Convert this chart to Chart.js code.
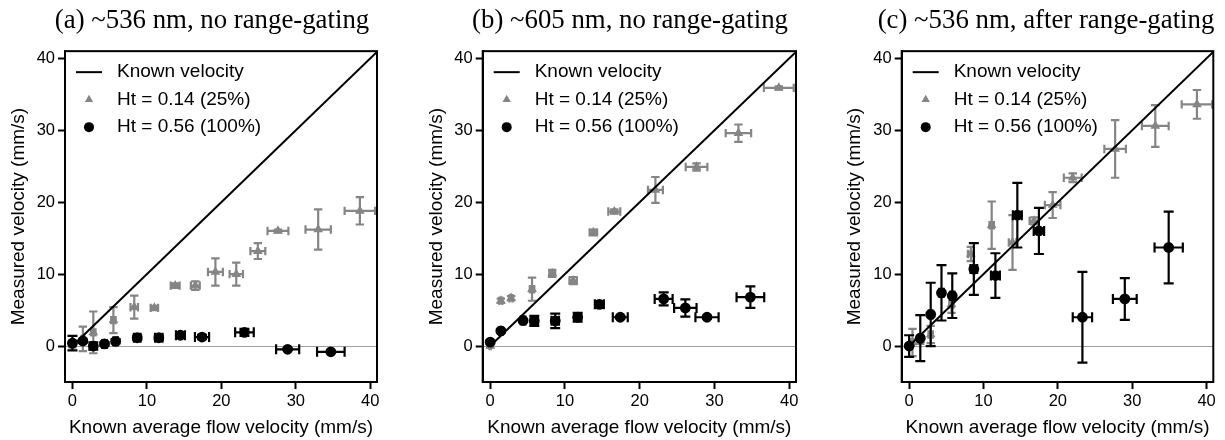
<!DOCTYPE html>
<html>
<head>
<meta charset="utf-8">
<script src="https://cdn.jsdelivr.net/npm/chart.js@4.4.1/dist/chart.umd.min.js"></script>
<style>
html, body { margin: 0; padding: 0; background: #fff; overflow: hidden; width: 1225px; height: 440px; }
canvas { position: absolute; top: 0; }
</style>
</head>
<body>
<canvas id="panelA" width="416" height="440" style="left:4px"></canvas>
<canvas id="panelB" width="416" height="440" style="left:422px"></canvas>
<canvas id="panelC" width="416" height="440" style="left:838px"></canvas>
<script>
// tick labels (both axes share the same values)
var xTicks = [0, 10, 20, 30, 40];
var yTicks = [0, 10, 20, 30, 40];
var knownLine = [0, 41];

var titles = ['(a) ~536 nm, no range-gating', '(b) ~605 nm, no range-gating', '(c) ~536 nm, after range-gating'];
var seriesNames = ['Known velocity', 'Ht = 0.14 (25%)', 'Ht = 0.56 (100%)'];

// (a) ~536 nm, no range-gating
var aGrayX    = [0, 1.4, 2.8, 5.5, 8.3, 11.0, 13.8, 16.5, 19.2, 22.0, 24.9, 27.6, 33.0, 38.6];
var aGrayY    = [0.3, 1.0, 1.9, 3.6, 5.4, 5.3, 8.4, 8.4, 10.3, 10.0, 13.2, 16.0, 16.2, 18.8];
var aGrayXErr = [0.1, 0.2, 0.3, 0.3, 0.5, 0.5, 0.6, 0.6, 1.0, 0.9, 1.0, 1.4, 1.7, 2.05];
var aGrayYErr = [0.5, 1.7, 2.9, 1.8, 1.6, 0.3, 0.3, 0.6, 1.9, 1.6, 1.1, 0.2, 2.8, 1.9];
var aBlackX    = [0, 1.4, 2.8, 4.3, 5.8, 8.7, 11.6, 14.5, 17.4, 23.1, 28.9, 34.7];
var aBlackY    = [0.4, 0.7, 0.0, 0.3, 0.65, 1.15, 1.15, 1.5, 1.25, 1.9, -0.45, -0.8];
var aBlackXErr = [0.1, 0.15, 0.2, 0.3, 0.3, 0.45, 0.5, 0.6, 0.95, 1.25, 1.55, 1.85];
var aBlackYErr = [1.0, 0.2, 0.5, 0.2, 0.3, 0.3, 0.3, 0.3, 0.3, 0.5, 0.1, 0.1];

// (b) ~605 nm, no range-gating
var bGrayX    = [0, 1.43, 2.8, 5.6, 8.3, 11.1, 13.8, 16.6, 22.1, 27.6, 33.2, 38.6];
var bGrayY    = [0, 6.3, 6.65, 7.9, 10.1, 9.1, 15.8, 18.7, 21.7, 24.9, 29.6, 35.9];
var bGrayXErr = [0.1, 0.2, 0.2, 0.3, 0.4, 0.5, 0.5, 0.8, 1.0, 1.45, 1.7, 2.0];
var bGrayYErr = [0.2, 0.3, 0.3, 1.6, 0.5, 0.5, 0.4, 0.3, 1.8, 0.5, 1.2, 0.2];
var bBlackX    = [0, 1.43, 4.4, 5.9, 8.7, 11.7, 14.6, 17.4, 23.2, 26.1, 29.0, 34.8];
var bBlackY    = [0.55, 2.1, 3.55, 3.5, 3.5, 4.0, 5.8, 4.0, 6.55, 5.3, 4.0, 6.8];
var bBlackXErr = [0.1, 0.2, 0.3, 0.5, 0.5, 0.5, 0.6, 1.0, 1.2, 1.5, 1.55, 1.85];
var bBlackYErr = [0.2, 0.2, 0.2, 0.7, 1.0, 0.6, 0.2, 0.2, 0.9, 1.2, 0.2, 1.5];

// (c) ~536 nm, after range-gating
var cGrayX    = [0.45, 1.5, 2.9, 5.7, 8.3, 11.1, 13.9, 16.8, 19.3, 22.0, 27.7, 33.1, 38.7];
var cGrayY    = [0.5, 0.8, 1.6, 5.8, 12.8, 16.8, 14.4, 17.4, 19.6, 23.4, 27.4, 30.6, 33.6];
var cGrayXErr = [0.2, 0.2, 0.3, 0.3, 0.4, 0.3, 0.5, 0.6, 1.05, 1.2, 1.45, 1.8, 2.05];
var cGrayYErr = [1.9, 0.5, 1.2, 1.2, 1.0, 3.3, 3.8, 0.5, 1.8, 0.6, 4.0, 2.9, 2.0];
var cBlackX    = [0, 1.5, 2.9, 4.35, 5.8, 8.7, 11.6, 14.55, 17.45, 23.3, 29.0, 34.9];
var cBlackY    = [0, 1.1, 4.4, 7.4, 7.0, 10.7, 9.8, 18.2, 16.0, 4.0, 6.55, 13.7];
var cBlackXErr = [0.15, 0.2, 0.25, 0.3, 0.3, 0.45, 0.6, 0.6, 0.7, 1.3, 1.6, 1.9];
var cBlackYErr = [1.5, 3.2, 4.4, 3.85, 3.1, 3.6, 3.1, 4.5, 3.2, 6.3, 2.9, 5.0];

var GRAY = '#858585';
var SANS = "'Liberation Sans', Arial, sans-serif";

function points(xs, ys) {
    return xs.map(function (v, i) { return { x: v, y: ys[i] }; });
}

// x/y error bars, drawn just before each dataset's markers
var errorBars = {
    id: 'errorBars',
    beforeDatasetDraw: function (chart, args) {
        var ds = chart.data.datasets[args.index];
        if (!ds.xErr) return;
        var ctx = chart.ctx, area = chart.chartArea;
        var sx = chart.scales.x, sy = chart.scales.y;
        var c = ds.capHalf;
        ctx.save();
        ctx.beginPath();
        ctx.rect(area.left, area.top, area.right - area.left, area.bottom - area.top);
        ctx.clip();
        ctx.strokeStyle = ds.backgroundColor;
        ctx.lineWidth = 2.2;
        ds.data.forEach(function (p, i) {
            var px = sx.getPixelForValue(p.x), py = sy.getPixelForValue(p.y);
            var x0 = sx.getPixelForValue(p.x - ds.xErr[i]), x1 = sx.getPixelForValue(p.x + ds.xErr[i]);
            var y0 = sy.getPixelForValue(p.y - ds.yErr[i]), y1 = sy.getPixelForValue(p.y + ds.yErr[i]);
            ctx.beginPath();
            ctx.moveTo(x0, py); ctx.lineTo(x1, py);
            ctx.moveTo(px, y0); ctx.lineTo(px, y1);
            ctx.moveTo(x0, py - c); ctx.lineTo(x0, py + c);
            ctx.moveTo(x1, py - c); ctx.lineTo(x1, py + c);
            ctx.moveTo(px - c, y0); ctx.lineTo(px + c, y0);
            ctx.moveTo(px - c, y1); ctx.lineTo(px + c, y1);
            ctx.stroke();
        });
        ctx.restore();
    }
};

// box frame + legend inside the plot, top-left
var frameLegend = {
    id: 'frameLegend',
    afterDraw: function (chart) {
        var ctx = chart.ctx, a = chart.chartArea;
        ctx.save();
        ctx.strokeStyle = '#000';
        ctx.lineWidth = 2;
        ctx.strokeRect(a.left, a.top, a.right - a.left, a.bottom - a.top);

        var mx = a.left + 24, tx = a.left + 52;
        var rows = [a.top + 21, a.top + 48.5, a.top + 76];
        ctx.beginPath();
        ctx.moveTo(a.left + 11, rows[0]); ctx.lineTo(a.left + 37, rows[0]);
        ctx.stroke();
        ctx.fillStyle = GRAY;
        ctx.beginPath();
        ctx.moveTo(mx, rows[1] - 4.8);
        ctx.lineTo(mx + 4.2, rows[1] + 2.4);
        ctx.lineTo(mx - 4.2, rows[1] + 2.4);
        ctx.closePath();
        ctx.fill();
        ctx.fillStyle = '#000';
        ctx.beginPath();
        ctx.arc(mx, rows[2], 5, 0, Math.PI * 2);
        ctx.fill();

        ctx.font = '19px ' + SANS;
        ctx.textBaseline = 'middle';
        ctx.textAlign = 'left';
        seriesNames.forEach(function (name, i) { ctx.fillText(name, tx, rows[i]); });
        ctx.restore();
    }
};

function makePanel(id, title, gx, gy, gxe, gye, kx, ky, kxe, kye, yAxisWidth, yTitlePad, rightGap) {
    new Chart(document.getElementById(id), {
        type: 'scatter',
        data: {
            datasets: [{
                label: seriesNames[2],
                data: points(kx, ky),
                xErr: kxe, yErr: kye, capHalf: 5,
                backgroundColor: '#000',
                pointStyle: 'circle',
                pointRadius: 5.4,
                borderWidth: 0
            }, {
                label: seriesNames[0],
                data: points(knownLine, knownLine),
                showLine: true,
                borderColor: '#000',
                borderWidth: 2,
                pointRadius: 0
            }, {
                label: seriesNames[1],
                data: points(gx, gy),
                xErr: gxe, yErr: gye, capHalf: 4.2,
                backgroundColor: GRAY,
                pointStyle: 'triangle',
                pointRadius: 5.6,
                borderWidth: 0
            }]
        },
        options: {
            responsive: false,
            devicePixelRatio: 1,
            animation: false,
            layout: { padding: 0 },
            plugins: {
                legend: { display: false },
                tooltip: { enabled: false },
                title: {
                    display: true,
                    text: title,
                    color: '#000',
                    font: { family: "'Liberation Serif', 'Times New Roman', serif", size: 26.8, weight: 'normal' },
                    padding: { top: 5, bottom: 14 }
                }
            },
            scales: {
                x: {
                    type: 'linear',
                    min: -1, max: 40.9,
                    afterBuildTicks: function (s) { s.ticks = xTicks.map(function (v) { return { value: v }; }); },
                    afterFit: function (s) { s.height = 58; },
                    border: { display: true, color: '#000', width: 2 },
                    grid: { drawOnChartArea: false, drawTicks: true, tickLength: 7, tickWidth: 2, tickColor: '#000' },
                    ticks: { color: '#000', padding: 3, font: { family: SANS, size: 16.5 } },
                    title: {
                        display: true,
                        text: 'Known average flow velocity (mm/s)',
                        color: '#000',
                        font: { family: SANS, size: 19 },
                        padding: { top: 0, bottom: 1 }
                    }
                },
                y: {
                    type: 'linear',
                    min: -5, max: 41,
                    afterBuildTicks: function (s) { s.ticks = yTicks.map(function (v) { return { value: v }; }); },
                    afterFit: function (s) { s.width = yAxisWidth; },
                    border: { display: true, color: '#000', width: 2 },
                    grid: {
                        drawOnChartArea: true,
                        color: function (c) { return c.tick && c.tick.value === 0 ? '#a0a0a0' : 'rgba(0,0,0,0)'; },
                        lineWidth: 1,
                        tickLength: 7, tickWidth: 2, tickColor: '#000'
                    },
                    ticks: { color: '#000', padding: 3, font: { family: SANS, size: 16.5 } },
                    title: {
                        display: true,
                        text: 'Measured velocity (mm/s)',
                        color: '#000',
                        font: { family: SANS, size: 19 },
                        padding: { top: yTitlePad, bottom: 0 }
                    }
                },
                // empty right-hand gutter so the title stays centred on the whole canvas
                gap: {
                    type: 'linear',
                    position: 'right',
                    afterFit: function (s) { s.width = rightGap; },
                    ticks: { display: false },
                    grid: { display: false, drawTicks: false },
                    border: { display: false },
                    title: { display: false }
                }
            }
        },
        plugins: [errorBars, frameLegend]
    });
}

makePanel('panelA', titles[0], aGrayX, aGrayY, aGrayXErr, aGrayYErr, aBlackX, aBlackY, aBlackXErr, aBlackYErr, 61, 3.4, 43);
makePanel('panelB', titles[1], bGrayX, bGrayY, bGrayXErr, bGrayYErr, bBlackX, bBlackY, bBlackXErr, bBlackYErr, 60.7, 3.6, 42);
makePanel('panelC', titles[2], cGrayX, cGrayY, cGrayXErr, cGrayYErr, cBlackX, cBlackY, cBlackXErr, cBlackYErr, 63.7, 5.3, 40.7);
</script>
</body>
</html>
